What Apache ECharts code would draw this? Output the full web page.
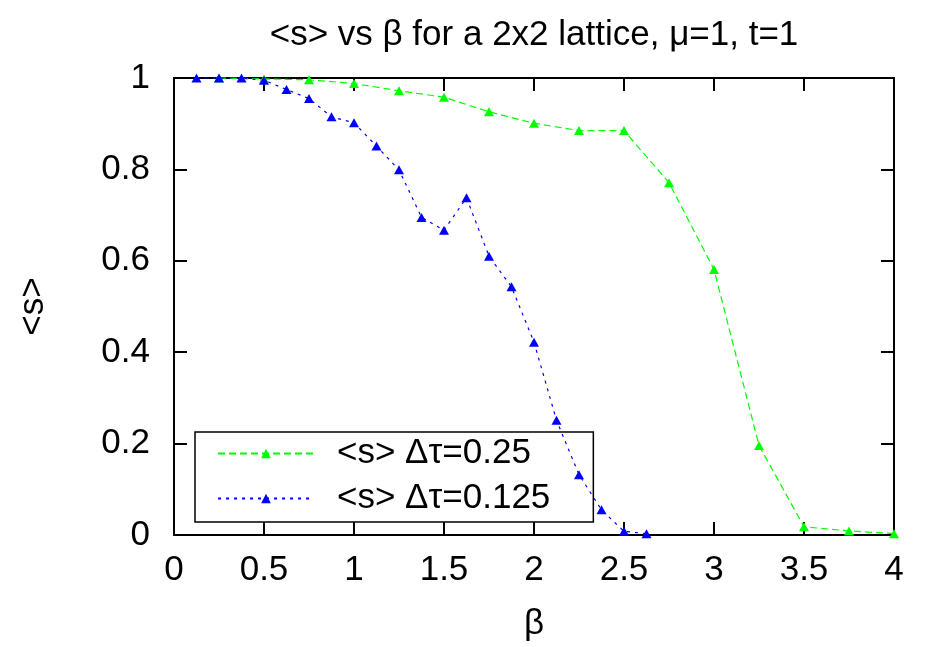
<!DOCTYPE html>
<html>
<head>
<meta charset="utf-8">
<script src="https://cdn.jsdelivr.net/npm/echarts@6/dist/echarts.min.js"></script>
<style>
  html, body { margin: 0; padding: 0; background: #fff; }
  #chart { width: 925px; height: 647px; }
</style>
</head>
<body>
<div id="chart"></div>
<script>
// <s> 随 beta 变化, 两种 Δτ
const betaCoarse = [0.25, 0.5, 0.75, 1.0, 1.25, 1.5, 1.75, 2.0, 2.25, 2.5, 2.75, 3.0, 3.25, 3.5, 3.75, 4.0];
const sCoarse = [1.0, 0.998, 0.996, 0.988, 0.972, 0.958, 0.926, 0.901, 0.885, 0.885, 0.771, 0.581, 0.196, 0.018, 0.009, 0.003];

const betaFine = [0.125, 0.25, 0.375, 0.5, 0.625, 0.75, 0.875, 1.0, 1.125, 1.25, 1.375, 1.5, 1.625,
  1.75, 1.875, 2.0, 2.125, 2.25, 2.375, 2.5, 2.625];
const sFine = [1.0, 1.0, 1.0, 0.995, 0.975, 0.955, 0.915, 0.902, 0.851, 0.799, 0.695, 0.667, 0.738,
  0.61, 0.543, 0.422, 0.251, 0.132, 0.055, 0.008, 0.003];

const font = "'Liberation Sans', Arial, sans-serif";
const fs = 35;

const chart = echarts.init(document.getElementById("chart"));

const pairs = (xs, ys) => xs.map((x, i) => [x, ys[i]]);

// 四周都有刻度 (gnuplot 风格)
const tickStyle = { inside: true, length: 13, lineStyle: { color: "#000", width: 2 } };
const lineStyle = { color: "#000", width: 2 };

const option = {
  animation: false,
  backgroundColor: "#fff",
  title: {
    text: "<s> vs β for a 2x2 lattice, μ=1, t=1",
    left: 529,
    textAlign: "center",
    top: 13,
    textStyle: { fontFamily: font, fontSize: fs, fontWeight: "normal", color: "#000" }
  },
  grid: { left: 174, right: 31, top: 78, bottom: 109 },
  legend: {
    orient: "vertical",
    left: 195,
    top: 432,
    itemWidth: 96,
    itemHeight: 12,
    itemGap: 10,
    padding: [4, 43, 6, 22],
    borderColor: "#000",
    borderWidth: 1.5,
    textStyle: { fontFamily: font, fontSize: fs, color: "#000", padding: [0, 0, 0, 18] },
    data: ["<s> Δτ=0.25", "<s> Δτ=0.125"]
  },
  xAxis: [
    {
      type: "value",
      min: 0, max: 4, interval: 0.5,
      name: "β",
      nameLocation: "middle",
      nameGap: 72,
      nameTextStyle: { fontFamily: font, fontSize: fs, color: "#000" },
      axisLine: { onZero: false, lineStyle },
      axisTick: tickStyle,
      axisLabel: { fontFamily: font, fontSize: fs, color: "#000", margin: 18 },
      splitLine: { show: false }
    },
    {
      type: "value", position: "top",
      min: 0, max: 4, interval: 0.5,
      axisLine: { onZero: false, lineStyle },
      axisTick: tickStyle,
      axisLabel: { show: false },
      splitLine: { show: false }
    }
  ],
  yAxis: [
    {
      type: "value",
      min: 0, max: 1, interval: 0.2,
      name: "<s>",
      nameLocation: "middle",
      nameGap: 123,
      nameTextStyle: { fontFamily: font, fontSize: fs, color: "#000" },
      axisLine: { show: true, onZero: false, lineStyle },
      axisTick: tickStyle,
      axisLabel: { fontFamily: font, fontSize: fs, color: "#000", margin: 24 },
      splitLine: { show: false }
    },
    {
      type: "value", position: "right",
      min: 0, max: 1, interval: 0.2,
      axisLine: { show: true, onZero: false, lineStyle },
      axisTick: tickStyle,
      axisLabel: { show: false },
      splitLine: { show: false }
    }
  ],
  series: [
    {
      name: "<s> Δτ=0.25",
      type: "line",
      data: pairs(betaCoarse, sCoarse),
      symbol: "triangle",
      symbolSize: [10, 9],
      itemStyle: { color: "#00ff00" },
      lineStyle: { color: "#00ff00", width: 1.2, type: [7, 4] },
      clip: false
    },
    {
      name: "<s> Δτ=0.125",
      type: "line",
      data: pairs(betaFine, sFine),
      symbol: "triangle",
      symbolSize: [10, 9],
      itemStyle: { color: "#0000ff" },
      lineStyle: { color: "#0000ff", width: 1.2, type: [3, 5] },
      clip: false
    }
  ]
};

chart.setOption(option);
</script>
</body>
</html>
